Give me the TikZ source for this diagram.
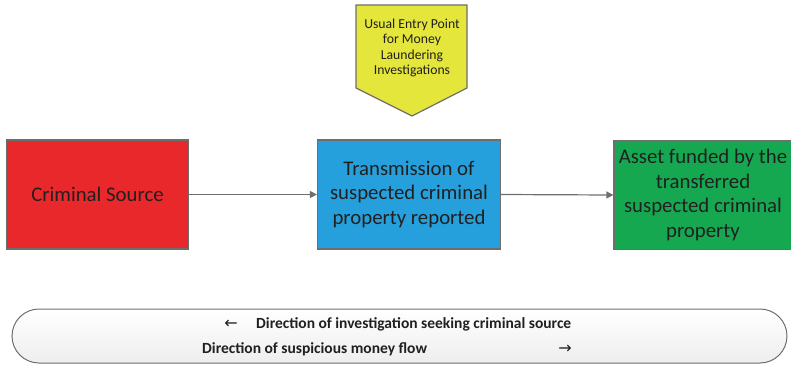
\documentclass[tikz,border=0pt]{standalone}
\usepackage{fontspec}
\setmainfont{Carlito}
\newfontfamily\arrowfont{DejaVu Sans}
\usetikzlibrary{arrows.meta}
\definecolor{boxred}{RGB}{233,40,44}
\definecolor{boxblue}{RGB}{38,160,220}
\definecolor{boxgreen}{RGB}{22,168,80}
\definecolor{entryyellow}{RGB}{228,230,60}
\definecolor{edgegray}{RGB}{110,110,110}
\definecolor{inkdark}{RGB}{32,32,32}
\definecolor{legendlow}{RGB}{238,238,238}
\tikzset{
  stagebox/.style={draw=edgegray, line width=1.2pt, inner sep=2pt, align=center,
    text=inkdark, font=\fontsize{20.8}{24.5}\selectfont},
  flow/.style={draw=edgegray, line width=1.2pt, -{Triangle[length=7pt,width=7pt]}},
  entryshape/.style={draw=edgegray, line width=1.2pt, fill=entryyellow},
  entrytext/.style={align=center, text=inkdark, font=\fontsize{13.7}{15.5}\selectfont},
  legendbox/.style={draw=edgegray, line width=1pt, rounded corners=27pt,
    top color=white, bottom color=legendlow},
  legendtext/.style={text=inkdark, font=\fontsize{15.5}{17}\selectfont\bfseries, inner sep=0pt, anchor=west},
  legendarrow/.style={text=inkdark, font=\arrowfont\fontsize{16}{17}\selectfont, inner sep=0pt}
}
\begin{document}
\begin{tikzpicture}[x=1pt,y=-1pt]
\useasboundingbox (0,0) rectangle (791,365);
\clip (0,0) rectangle (791,365);

% entry point marker
\draw[entryshape] (356,5) -- (467,5) -- (467,88) -- (412,116) -- (356,88) -- cycle;
\node[entrytext] (entry) at (412,48) {Usual Entry Point\\for Money\\Laundering\\Investigations};

% the three stages
\node[stagebox, fill=boxred, minimum width=182, minimum height=109] (source) at (97.5,194.5) {Criminal Source};
\node[stagebox, fill=boxblue, minimum width=183, minimum height=109] (transfer) at (409,194.5)
  {Transmission of\\suspected criminal\\property reported};
\node[stagebox, fill=boxgreen, minimum width=178, minimum height=109] (asset) at (703,195)
  {Asset funded by the\\transferred\\suspected criminal\\property};

\draw[flow] (source.east) -- (transfer.west);
\draw[flow] (transfer.east) -- (asset.west);

% direction legend
\node[legendbox, minimum width=775, minimum height=54] (legend) at (399.5,336) {};
\node[legendarrow] (backarrow) at (231,324) {←};
\node[legendtext] (backtext) at (256,324) {Direction of investigation seeking criminal source};
\node[legendtext] (fwdtext) at (202,349) {Direction of suspicious money flow};
\node[legendarrow] (fwdarrow) at (565,349) {→};
\end{tikzpicture}
\end{document}
